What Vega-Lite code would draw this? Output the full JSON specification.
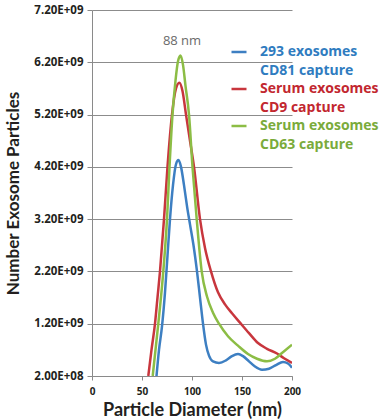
{
  "$schema": "https://vega.github.io/schema/vega-lite/v6.json",
  "width": 200,
  "height": 366,
  "autosize": {"type": "none"},
  "padding": {"left": 92, "top": 10, "right": 88, "bottom": 44},
  "background": "white",
  "config": {
    "view": {"stroke": null},
    "font": "Lato",
    "axis": {"labelFont": "Open Sans", "titleFont": "Lato", "labelColor": "#231f20", "titleColor": "#231f20"}
  },
  "datasets": {
    "curves": [
      {"series": "293 exosomes|CD81 capture", "d": 64.5, "n": 2.0e8},
      {"series": "293 exosomes|CD81 capture", "d": 67, "n": 7.0e8},
      {"series": "293 exosomes|CD81 capture", "d": 70, "n": 1.15e9},
      {"series": "293 exosomes|CD81 capture", "d": 73, "n": 1.8e9},
      {"series": "293 exosomes|CD81 capture", "d": 75.5, "n": 2.5e9},
      {"series": "293 exosomes|CD81 capture", "d": 78, "n": 3.2e9},
      {"series": "293 exosomes|CD81 capture", "d": 81, "n": 3.85e9},
      {"series": "293 exosomes|CD81 capture", "d": 84, "n": 4.25e9},
      {"series": "293 exosomes|CD81 capture", "d": 86.5, "n": 4.33e9},
      {"series": "293 exosomes|CD81 capture", "d": 89, "n": 4.2e9},
      {"series": "293 exosomes|CD81 capture", "d": 92, "n": 3.85e9},
      {"series": "293 exosomes|CD81 capture", "d": 95, "n": 3.45e9},
      {"series": "293 exosomes|CD81 capture", "d": 98, "n": 3.1e9},
      {"series": "293 exosomes|CD81 capture", "d": 101.5, "n": 2.7e9},
      {"series": "293 exosomes|CD81 capture", "d": 105, "n": 2.2e9},
      {"series": "293 exosomes|CD81 capture", "d": 108, "n": 1.7e9},
      {"series": "293 exosomes|CD81 capture", "d": 111, "n": 1.2e9},
      {"series": "293 exosomes|CD81 capture", "d": 114, "n": 8.0e8},
      {"series": "293 exosomes|CD81 capture", "d": 117, "n": 5.9e8},
      {"series": "293 exosomes|CD81 capture", "d": 121, "n": 4.8e8},
      {"series": "293 exosomes|CD81 capture", "d": 127, "n": 4.5e8},
      {"series": "293 exosomes|CD81 capture", "d": 134, "n": 5.0e8},
      {"series": "293 exosomes|CD81 capture", "d": 140, "n": 5.8e8},
      {"series": "293 exosomes|CD81 capture", "d": 146, "n": 6.2e8},
      {"series": "293 exosomes|CD81 capture", "d": 151, "n": 5.8e8},
      {"series": "293 exosomes|CD81 capture", "d": 157, "n": 4.8e8},
      {"series": "293 exosomes|CD81 capture", "d": 163, "n": 3.8e8},
      {"series": "293 exosomes|CD81 capture", "d": 170, "n": 3.2e8},
      {"series": "293 exosomes|CD81 capture", "d": 177, "n": 3.4e8},
      {"series": "293 exosomes|CD81 capture", "d": 184, "n": 4.1e8},
      {"series": "293 exosomes|CD81 capture", "d": 191, "n": 4.7e8},
      {"series": "293 exosomes|CD81 capture", "d": 196, "n": 4.4e8},
      {"series": "293 exosomes|CD81 capture", "d": 200, "n": 3.6e8},

      {"series": "Serum exosomes|CD9 capture", "d": 56.3, "n": 2.0e8},
      {"series": "Serum exosomes|CD9 capture", "d": 59.5, "n": 7.0e8},
      {"series": "Serum exosomes|CD9 capture", "d": 63, "n": 1.2e9},
      {"series": "Serum exosomes|CD9 capture", "d": 65.5, "n": 1.7e9},
      {"series": "Serum exosomes|CD9 capture", "d": 68, "n": 2.2e9},
      {"series": "Serum exosomes|CD9 capture", "d": 72, "n": 3.2e9},
      {"series": "Serum exosomes|CD9 capture", "d": 75.5, "n": 4.2e9},
      {"series": "Serum exosomes|CD9 capture", "d": 80, "n": 5.2e9},
      {"series": "Serum exosomes|CD9 capture", "d": 84, "n": 5.7e9},
      {"series": "Serum exosomes|CD9 capture", "d": 87.3, "n": 5.81e9},
      {"series": "Serum exosomes|CD9 capture", "d": 90.5, "n": 5.65e9},
      {"series": "Serum exosomes|CD9 capture", "d": 94, "n": 5.2e9},
      {"series": "Serum exosomes|CD9 capture", "d": 98, "n": 4.7e9},
      {"series": "Serum exosomes|CD9 capture", "d": 102, "n": 4.2e9},
      {"series": "Serum exosomes|CD9 capture", "d": 108, "n": 3.2e9},
      {"series": "Serum exosomes|CD9 capture", "d": 113, "n": 2.65e9},
      {"series": "Serum exosomes|CD9 capture", "d": 119, "n": 2.2e9},
      {"series": "Serum exosomes|CD9 capture", "d": 126, "n": 1.8e9},
      {"series": "Serum exosomes|CD9 capture", "d": 133, "n": 1.57e9},
      {"series": "Serum exosomes|CD9 capture", "d": 140, "n": 1.4e9},
      {"series": "Serum exosomes|CD9 capture", "d": 148, "n": 1.22e9},
      {"series": "Serum exosomes|CD9 capture", "d": 157, "n": 1.02e9},
      {"series": "Serum exosomes|CD9 capture", "d": 166, "n": 8.3e8},
      {"series": "Serum exosomes|CD9 capture", "d": 175, "n": 7.2e8},
      {"series": "Serum exosomes|CD9 capture", "d": 185, "n": 6.3e8},
      {"series": "Serum exosomes|CD9 capture", "d": 192, "n": 5.4e8},
      {"series": "Serum exosomes|CD9 capture", "d": 200, "n": 4.5e8},

      {"series": "Serum exosomes|CD63 capture", "d": 60.7, "n": 2.0e8},
      {"series": "Serum exosomes|CD63 capture", "d": 63.5, "n": 7.0e8},
      {"series": "Serum exosomes|CD63 capture", "d": 66.3, "n": 1.2e9},
      {"series": "Serum exosomes|CD63 capture", "d": 71.3, "n": 2.2e9},
      {"series": "Serum exosomes|CD63 capture", "d": 75, "n": 3.2e9},
      {"series": "Serum exosomes|CD63 capture", "d": 77.5, "n": 4.2e9},
      {"series": "Serum exosomes|CD63 capture", "d": 80.5, "n": 5.2e9},
      {"series": "Serum exosomes|CD63 capture", "d": 83.5, "n": 5.85e9},
      {"series": "Serum exosomes|CD63 capture", "d": 86, "n": 6.22e9},
      {"series": "Serum exosomes|CD63 capture", "d": 88.5, "n": 6.33e9},
      {"series": "Serum exosomes|CD63 capture", "d": 91, "n": 6.15e9},
      {"series": "Serum exosomes|CD63 capture", "d": 93.5, "n": 5.75e9},
      {"series": "Serum exosomes|CD63 capture", "d": 97, "n": 5.2e9},
      {"series": "Serum exosomes|CD63 capture", "d": 100.5, "n": 4.2e9},
      {"series": "Serum exosomes|CD63 capture", "d": 104.7, "n": 3.2e9},
      {"series": "Serum exosomes|CD63 capture", "d": 109.7, "n": 2.2e9},
      {"series": "Serum exosomes|CD63 capture", "d": 115, "n": 1.72e9},
      {"series": "Serum exosomes|CD63 capture", "d": 121, "n": 1.41e9},
      {"series": "Serum exosomes|CD63 capture", "d": 127, "n": 1.2e9},
      {"series": "Serum exosomes|CD63 capture", "d": 136, "n": 9.6e8},
      {"series": "Serum exosomes|CD63 capture", "d": 146, "n": 7.8e8},
      {"series": "Serum exosomes|CD63 capture", "d": 156, "n": 6.2e8},
      {"series": "Serum exosomes|CD63 capture", "d": 165, "n": 5.3e8},
      {"series": "Serum exosomes|CD63 capture", "d": 175, "n": 4.8e8},
      {"series": "Serum exosomes|CD63 capture", "d": 183, "n": 5.3e8},
      {"series": "Serum exosomes|CD63 capture", "d": 190, "n": 6.4e8},
      {"series": "Serum exosomes|CD63 capture", "d": 200, "n": 8.0e8}
    ],
    "note": [{"d": 90, "n": 6.6e9, "t": "88 nm"}]
  },
  "layer": [
    {
      "data": {"name": "curves"},
      "mark": {"type": "line", "interpolate": "monotone", "clip": true},
      "encoding": {
        "x": {
          "field": "d", "type": "quantitative",
          "scale": {"domain": [0, 200], "nice": false, "zero": false},
          "axis": {
            "values": [0, 50, 100, 150, 200],
            "title": "Particle Diameter (nm)",
            "titleFontSize": 18, "titleFontWeight": "bold", "titlePadding": 5,
            "labelFontSize": 10, "labelFontWeight": "bold", "labelPadding": 6, "labelFlush": false,
            "domainColor": "#8a8a8a", "tickColor": "#8a8a8a", "tickSize": 4, "grid": false
          }
        },
        "y": {
          "field": "n", "type": "quantitative",
          "scale": {"domain": [2e8, 7.2e9], "nice": false, "zero": false},
          "axis": {
            "values": [2e8, 1.2e9, 2.2e9, 3.2e9, 4.2e9, 5.2e9, 6.2e9, 7.2e9],
            "labelExpr": "replace(upper(format(datum.value, '.2e')), 'E+', 'E+0')",
            "title": "Number Exosome Particles",
            "titleFontSize": 17, "titleFontWeight": "bold", "titlePadding": 11,
            "labelFontSize": 11.5, "labelFontWeight": "bold", "labelPadding": 4, "labelFlush": false,
            "domainColor": "#8a8a8a", "tickColor": "#8a8a8a", "tickSize": 5,
            "grid": true, "gridColor": "#8c8c8c", "gridWidth": 1
          }
        },
        "color": {
          "field": "series", "type": "nominal",
          "scale": {
            "domain": ["293 exosomes|CD81 capture", "Serum exosomes|CD9 capture", "Serum exosomes|CD63 capture"],
            "range": ["#3d7fc2", "#c8363d", "#8cbd45"]
          },
          "legend": {
            "title": null,
            "orient": "none",
            "legendX": 138,
            "legendY": 33,
            "symbolType": "stroke",
            "symbolSize": 225,
            "symbolStrokeWidth": 2.5,
            "labelExpr": "split(datum.label, '|')",
            "labelFont": "Open Sans",
            "labelFontSize": 14,
            "labelFontWeight": "bold",
            "labelOffset": 12,
            "labelLimit": 0,
            "rowPadding": 2,
            "encode": {
              "labels": {"update": {"fill": {"signal": "datum.value == '293 exosomes|CD81 capture' ? '#2f7cc0' : datum.value == 'Serum exosomes|CD9 capture' ? '#c2272f' : '#7aab3b'"}, "lineHeight": {"value": 19}}}
            }
          }
        },
        "strokeWidth": {
          "field": "series", "type": "nominal",
          "scale": {
            "domain": ["293 exosomes|CD81 capture", "Serum exosomes|CD9 capture", "Serum exosomes|CD63 capture"],
            "range": [2.5, 2.5, 4]
          },
          "legend": null
        }
      }
    },
    {
      "data": {"name": "note"},
      "mark": {"type": "text", "font": "Open Sans", "fontSize": 13, "color": "#6a6a6a", "baseline": "middle", "align": "center"},
      "encoding": {
        "x": {"field": "d", "type": "quantitative"},
        "y": {"field": "n", "type": "quantitative"},
        "text": {"field": "t"}
      }
    }
  ]
}
